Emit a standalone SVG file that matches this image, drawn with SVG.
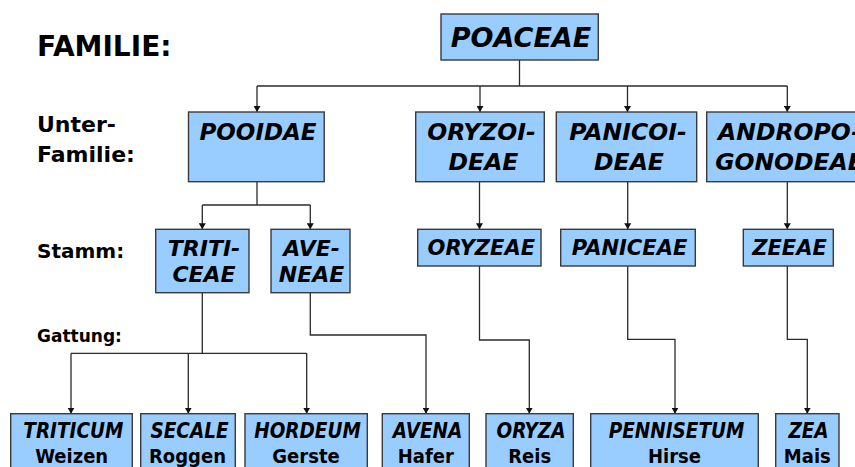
<svg xmlns="http://www.w3.org/2000/svg" width="855" height="467" viewBox="0 0 855 467">
<style>
.box{fill:#99CCFF;stroke:#3a3a3a;stroke-width:1.4}
.t{font-family:"DejaVu Sans","Verdana",sans-serif;font-weight:bold;fill:#000}
.i{font-style:italic}
.c{font-family:"DejaVu Sans Condensed","DejaVu Sans",sans-serif;font-stretch:condensed}
.m{text-anchor:middle}
.conn path{fill:none;stroke:#2a2a2a;stroke-width:1.3;marker-end:url(#ah)}
</style>
<defs>
<marker id="ah" markerUnits="userSpaceOnUse" markerWidth="7" markerHeight="7" refX="6" refY="3.5" orient="auto">
<path d="M0,0 L6,3.5 L0,7 z" fill="#111"/>
</marker>
</defs>
<rect width="855" height="467" fill="#fff"/>
<g id="labels">
<text class="t" x="37" y="56" font-size="28">FAMILIE:</text>
<text class="t" x="37" y="131.5" font-size="22">Unter-</text>
<text class="t" x="37" y="161.5" font-size="22">Familie:</text>
<text class="t" x="37" y="257.5" font-size="20">Stamm:</text>
<text class="t" x="37" y="341.5" font-size="17">Gattung:</text>
</g>
<g class="conn" id="connectors">
<path d="M519.5,60 V86" style="marker-end:none"/>
<path d="M257,86 H787.3" style="marker-end:none"/>
<path d="M257,86 V112"/>
<path d="M480,86 V112"/>
<path d="M627.5,86 V112"/>
<path d="M787.3,86 V112"/>
<path d="M257,182 V205" style="marker-end:none"/>
<path d="M202.3,205 H310.3" style="marker-end:none"/>
<path d="M202.3,205 V229.3"/>
<path d="M310.3,205 V229.3"/>
<path d="M479.5,182 V229.3"/>
<path d="M627.7,182 V229.3"/>
<path d="M787.3,182 V229.3"/>
<path d="M202.3,292.7 V353.3" style="marker-end:none"/>
<path d="M71,353.3 H306.7" style="marker-end:none"/>
<path d="M71,353.3 V413.7"/>
<path d="M188.3,353.3 V413.7"/>
<path d="M306.7,353.3 V413.7"/>
<path d="M310.3,292.7 V335 H426 V413.7"/>
<path d="M479.5,266 V340 H529.3 V413.7"/>
<path d="M627.7,266 V339.3 H675 V413.7"/>
<path d="M787.3,266 V339.3 H807.3 V413.7"/>
</g>
<g id="poaceae">
<rect class="box" x="441" y="14" width="157.3" height="46"/>
<text class="t i m" x="521" y="46.7" font-size="27">POACEAE</text>
</g>
<g id="pooidae">
<rect class="box" x="188.5" y="112" width="135.7" height="69.7"/>
<text class="t i m" x="258" y="140" font-size="23">POOIDAE</text>
</g>
<g id="oryzoideae">
<rect class="box" x="415.7" y="112" width="128.6" height="69.7"/>
<text class="t i m" x="481.5" y="140" font-size="23.5">ORYZOI-</text>
<text class="t i m" x="483.5" y="170" font-size="23.5">DEAE</text>
</g>
<g id="panicoideae">
<rect class="box" x="556.3" y="112" width="140.4" height="69.7"/>
<text class="t i m" x="628" y="140" font-size="23.5">PANICOI-</text>
<text class="t i m" x="629" y="170" font-size="23.5">DEAE</text>
</g>
<g id="andropogonodeae">
<rect class="box" x="706.7" y="112" width="161" height="69.7"/>
<text class="t i m" x="789.5" y="140" font-size="23.5">ANDROPO-</text>
<text class="t i m" x="789.5" y="170" font-size="23.5">GONODEAE</text>
</g>
<g id="triticeae">
<rect class="box" x="155.7" y="229.3" width="93.3" height="63.4"/>
<text class="t i m" x="204" y="256" font-size="22">TRITI-</text>
<text class="t i m" x="204" y="281.7" font-size="22">CEAE</text>
</g>
<g id="aveneae">
<rect class="box" x="271" y="229.3" width="79" height="63.4"/>
<text class="t i m" x="311.5" y="256" font-size="22">AVE-</text>
<text class="t i m" x="311.5" y="281.7" font-size="22">NEAE</text>
</g>
<g id="oryzeae">
<rect class="box" x="417.7" y="229.3" width="123.3" height="36.7"/>
<text class="t i m" x="481.3" y="255" font-size="21">ORYZEAE</text>
</g>
<g id="paniceae">
<rect class="box" x="560.7" y="229.3" width="134.6" height="36.7"/>
<text class="t i m" x="629.5" y="255" font-size="21">PANICEAE</text>
</g>
<g id="zeeae">
<rect class="box" x="743.3" y="229.3" width="90" height="36.7"/>
<text class="t i m" x="789.5" y="255" font-size="21">ZEEAE</text>
</g>
<g id="triticum">
<rect class="box" x="10.7" y="413.7" width="121.6" height="70"/>
<text class="t c i m" x="73.3" y="438.3" font-size="20.5">TRITICUM</text>
<text class="t c m" x="71.7" y="463.3" font-size="20">Weizen</text>
</g>
<g id="secale">
<rect class="box" x="140.7" y="413.7" width="94.6" height="70"/>
<text class="t c i m" x="189.5" y="438.3" font-size="20.5">SECALE</text>
<text class="t c m" x="187.5" y="463.3" font-size="20">Roggen</text>
</g>
<g id="hordeum">
<rect class="box" x="245" y="413.7" width="122.3" height="70"/>
<text class="t c i m" x="307.5" y="438.3" font-size="20.5">HORDEUM</text>
<text class="t c m" x="306" y="463.3" font-size="20">Gerste</text>
</g>
<g id="avena">
<rect class="box" x="382.3" y="413.7" width="87" height="70"/>
<text class="t c i m" x="427.5" y="438.3" font-size="20.5">AVENA</text>
<text class="t c m" x="425.8" y="463.3" font-size="20">Hafer</text>
</g>
<g id="oryza">
<rect class="box" x="486" y="413.7" width="87.3" height="70"/>
<text class="t c i m" x="531" y="438.3" font-size="20.5">ORYZA</text>
<text class="t c m" x="529.7" y="463.3" font-size="20">Reis</text>
</g>
<g id="pennisetum">
<rect class="box" x="590.7" y="413.7" width="167.6" height="70"/>
<text class="t c i m" x="676.5" y="438.3" font-size="20.5">PENNISETUM</text>
<text class="t c m" x="674.5" y="463.3" font-size="20">Hirse</text>
</g>
<g id="zea">
<rect class="box" x="775.7" y="413.7" width="63.3" height="70"/>
<text class="t c i m" x="808.5" y="438.3" font-size="20.5">ZEA</text>
<text class="t c m" x="807.3" y="463.3" font-size="20">Mais</text>
</g>
</svg>
